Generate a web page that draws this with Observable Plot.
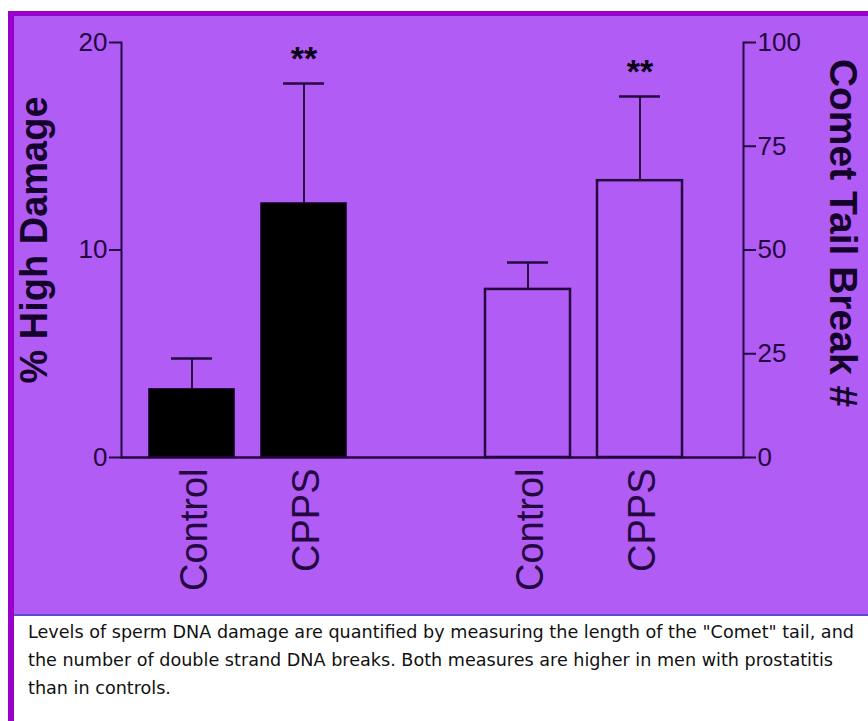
<!DOCTYPE html>
<html>
<head>
<meta charset="utf-8">
<script src="https://cdn.jsdelivr.net/npm/d3@7"></script>
<script src="https://cdn.jsdelivr.net/npm/@observablehq/plot@0.6"></script>
<style>
  body { margin: 0; background: #ffffff; }
  #topgap { height: 11px; }
  #wrap { margin-left: 8px; border-left: 6px solid #9900cc; border-top: 5px solid #9900cc; }
  #chart { background: #b25cf6; height: 598px; border-bottom: 2px solid #5a4ad8; overflow: hidden; }
  #chart svg { display: block; }
  #caption { height: 103px; padding: 2px 0 0 14px; font-family: "DejaVu Sans", Verdana, sans-serif; font-size: 17.6px; line-height: 28px; color: #111; white-space: nowrap; }
</style>
</head>
<body>
<div id="topgap"></div>
<div id="wrap">
  <div id="chart"></div>
  <div id="caption">Levels of sperm DNA damage are quantified by measuring the length of the "Comet" tail, and<br>the number of double strand DNA breaks. Both measures are higher in men with prostatitis<br>than in controls.</div>
</div>
<script>
// ---- data ----
const groups = ["Control", "CPPS"];
const damageKeys = ["d-Control", "d-CPPS"];
const cometKeys = ["c-Control", "c-CPPS"];
const slotKeys = ["d-Control", "d-CPPS", "gap", "c-Control", "c-CPPS"];
const damageMean = [3.28, 12.24];     // % High Damage
const damageErr = [1.49, 5.78];
const cometMean = [40.5, 66.7];       // Comet Tail Break #
const cometErr = [6.5, 20.3];
const significance = ["", "**"];
const leftTicks = [0, 10, 20];
const rightTicks = [0, 25, 50, 75, 100];
const leftTitle = "% High Damage";
const rightTitle = "Comet Tail Break #";

const ratio = 5; // right axis units per left axis unit

const damage = groups.map((g, i) => ({key: damageKeys[i], label: g, v: damageMean[i], e: damageErr[i], sig: significance[i]}));
const comet = groups.map((g, i) => ({key: cometKeys[i], label: g, v: cometMean[i] / ratio, e: cometErr[i] / ratio, sig: significance[i]}));
const labelOf = Object.fromEntries([...damage, ...comet].map(d => [d.key, d.label]));
const rightLabelOf = new Map(rightTicks.map(t => [t / ratio, String(t)]));

const ink = "#24073f";
const font = "'Liberation Sans', Arial, sans-serif";

const chart = Plot.plot({
  width: 854,
  height: 598,
  marginLeft: 107,
  marginRight: 125,
  marginTop: 26,
  marginBottom: 157,
  style: {background: "transparent", color: ink, fontFamily: font, overflow: "visible"},
  x: {domain: slotKeys, range: [122, 682], paddingInner: 0.24, paddingOuter: 0.12, axis: null},
  y: {domain: [0, 20], axis: null},
  marks: [
    // bars
    Plot.barY(damage, {x: "key", y: "v", fill: "#000000", stroke: "#0a0014", strokeWidth: 1.5}),
    Plot.barY(comet, {x: "key", y: "v", fill: "none", stroke: ink, strokeWidth: 2.5}),
    // error bars
    Plot.ruleX([...damage, ...comet], {x: "key", y1: "v", y2: d => d.v + d.e, stroke: ink, strokeWidth: 2}),
    Plot.tickY([...damage, ...comet], {x: "key", y: d => d.v + d.e, stroke: ink, strokeWidth: 2.5, insetLeft: 22, insetRight: 22}),
    // significance stars
    Plot.text([...damage, ...comet].filter(d => d.sig), {x: "key", y: d => d.v + d.e, text: "sig", dy: -24, fontSize: 34, fontWeight: "bold", fill: "#0a0014"}),
    // axis lines
    Plot.frame({anchor: "left", stroke: ink, strokeWidth: 2}),
    Plot.frame({anchor: "right", stroke: ink, strokeWidth: 2}),
    Plot.ruleY([0], {stroke: ink, strokeWidth: 2.5}),
    // axes
    Plot.axisY({anchor: "left", ticks: leftTicks, tickSize: 12, tickPadding: 2, fontSize: 26, stroke: ink, strokeWidth: 2, label: null}),
    Plot.axisY({anchor: "right", ticks: rightTicks.map(t => t / ratio), tickFormat: t => rightLabelOf.get(t), tickSize: 12, tickPadding: 2, fontSize: 26, stroke: ink, strokeWidth: 2, label: null}),
    Plot.axisX({ticks: [...damageKeys, ...cometKeys], tickFormat: k => labelOf[k], tickRotate: -90, tickSize: 0, tickPadding: 11, dx: 3, fontSize: 38, label: null}),
    // axis titles
    Plot.text([leftTitle], {frameAnchor: "left", textAnchor: "middle", text: d => d, rotate: -90, dx: -87, dy: -10, fontSize: 38, fontWeight: "bold", fill: "#14022a"}),
    Plot.text([rightTitle], {frameAnchor: "right", textAnchor: "middle", text: d => d, rotate: 90, dx: 99, dy: -17, fontSize: 39, fontWeight: "bold", fill: "#14022a"})
  ]
});
document.getElementById("chart").appendChild(chart);
</script>
</body>
</html>
